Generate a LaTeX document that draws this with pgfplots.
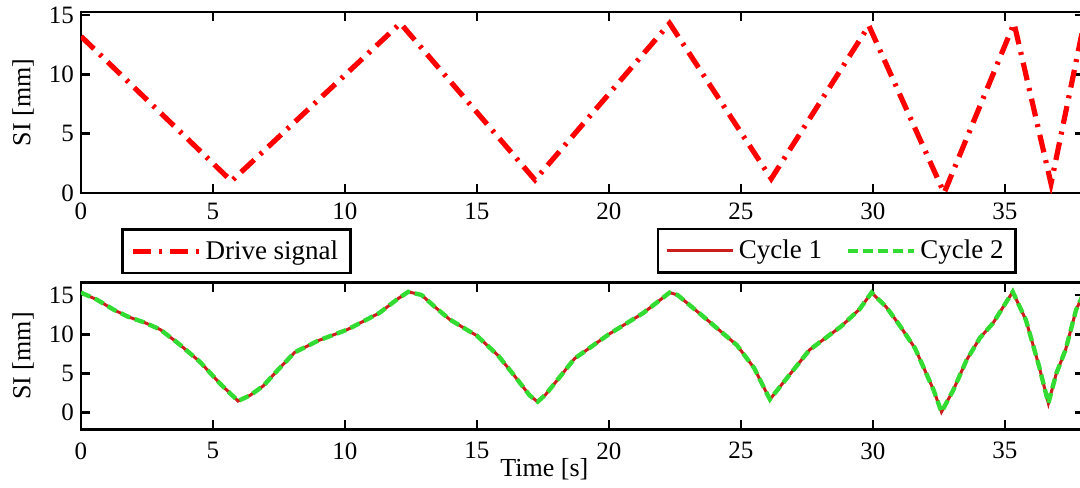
\documentclass[border=0pt]{standalone}
\usepackage{fontspec}
\setmainfont{Liberation Serif}
\usepackage{pgfplots}
\pgfplotsset{compat=1.18}
\definecolor{drive}{RGB}{255,0,0}
\definecolor{cyc1}{RGB}{205,30,30}
\definecolor{cyc2}{RGB}{50,220,50}

\pgfplotsset{
 myaxis/.style={
  scale only axis, width=501.5pt, xmin=0, xmax=38,
  axis line style={line width=1.3pt},
  tick style={line width=1.3pt, black},
  major tick length=4.5pt,
  tick align=inside,
  xtick={0,5,...,35}, ytick={0,5,10,15},
  tick label style={font=\fontsize{12.5}{14}\selectfont},
  /pgf/number format/assume math mode=true,
  ylabel={SI [mm]},
  ylabel style={at={(axis description cs:-0.0578,0.5)}, anchor=center, font=\fontsize{13}{15}\selectfont},
  legend image code/.code={\draw[##1] (0pt,0pt) -- (33pt,0pt);},
  legend style={draw=black, line width=1.3pt, font=\fontsize{13.5}{16}\selectfont, inner xsep=4pt, inner ysep=3.5pt},
  legend cell align=left,
 }
}

\begin{document}
\begin{tikzpicture}
\path[use as bounding box] (0pt,0pt) rectangle (540pt,-243.5pt);

\begin{axis}[myaxis, at={(40.5pt,-96.5pt)}, anchor=south west, height=90.5pt,
  ymin=0, ymax=15.25, xticklabel style={yshift=-1.5pt},
  legend style={at={(axis description cs:0.0399,-0.1934)}, anchor=north west}]
\addplot[drive, line width=2.6pt, dash pattern=on 9pt off 4pt on 1.5pt off 4pt] coordinates {
(0,13.2) (5.7,1.0) (12.1,14.3) (17.2,1.1) (22.3,14.3) (26.15,1.2) (29.85,14.1) (32.7,0.0) (35.35,14.3) (36.75,0.8) (38,14.3)
};
\addlegendentry{Drive signal}
\end{axis}

\begin{axis}[myaxis, at={(40.5pt,-214.65pt)}, anchor=south west, height=73.3pt,
  ymin=-2.11, ymax=16.56, xticklabel style={yshift=-3pt},
  xlabel={Time [s]},
  xlabel style={at={(axis description cs:0.462,0)}, anchor=north, inner sep=0pt, yshift=-14.5pt, font=\fontsize{13}{15}\selectfont},
  legend columns=2,
  legend style={at={(axis description cs:0.9332,1.376)}, anchor=north east, /tikz/every even column/.append style={column sep=10pt}}]
\addplot[cyc1, line width=1.5pt] coordinates {
(0,15.3) (0.6,14.4) (1.25,13.1) (1.8,12.2) (2.4,11.5) (3.0,10.6) (3.7,8.8) (4.5,6.5) (5.3,3.6) (5.95,1.5)
(6.4,2.2) (6.9,3.4) (7.5,5.6) (8.1,7.7) (9.0,9.2) (10.1,10.6) (11.3,12.7) (12.0,14.5) (12.4,15.4) (12.9,15.0)
(13.4,13.5) (13.96,11.9) (15.0,9.8) (15.8,7.3) (16.4,4.8) (17.0,2.2) (17.3,1.4) (17.6,2.3) (18.7,6.9) (20.0,10.0)
(21.3,12.7) (22.3,15.3) (22.6,15.0) (23.7,11.9) (24.85,8.6) (25.5,5.7) (26.1,1.7) (26.55,3.6) (27.6,8.0) (28.8,11.0)
(29.5,13.2) (29.95,15.3) (30.5,13.5) (31.0,11.2) (31.6,8.2) (32.3,2.9) (32.6,0.1) (33.05,2.9) (33.55,6.7) (34.05,9.5)
(34.55,11.4) (35.3,15.4) (35.8,11.8) (36.3,5.9) (36.65,1.2) (36.95,5.0) (37.3,8.0) (37.7,13.1) (38.0,15.3)
};
\addlegendentry{Cycle 1}
\addplot[cyc2, line width=2.2pt, dash pattern=on 5pt off 2.5pt] coordinates {
(0,15.3) (0.6,14.4) (1.25,13.1) (1.8,12.2) (2.4,11.5) (3.0,10.6) (3.7,8.8) (4.5,6.5) (5.3,3.6) (5.95,1.5)
(6.4,2.2) (6.9,3.4) (7.5,5.6) (8.1,7.7) (9.0,9.2) (10.1,10.6) (11.3,12.7) (12.0,14.5) (12.4,15.4) (12.9,15.0)
(13.4,13.5) (13.96,11.9) (15.0,9.8) (15.8,7.3) (16.4,4.8) (17.0,2.2) (17.3,1.4) (17.6,2.3) (18.7,6.9) (20.0,10.0)
(21.3,12.7) (22.3,15.3) (22.6,15.0) (23.7,11.9) (24.85,8.6) (25.5,5.7) (26.1,1.7) (26.55,3.6) (27.6,8.0) (28.8,11.0)
(29.5,13.2) (29.95,15.3) (30.5,13.5) (31.0,11.2) (31.6,8.2) (32.3,2.9) (32.6,0.1) (33.05,2.9) (33.55,6.7) (34.05,9.5)
(34.55,11.4) (35.3,15.4) (35.8,11.8) (36.3,5.9) (36.65,1.2) (36.95,5.0) (37.3,8.0) (37.7,13.1) (38.0,15.3)
};
\addlegendentry{Cycle 2}
\end{axis}
\end{tikzpicture}
\end{document}
